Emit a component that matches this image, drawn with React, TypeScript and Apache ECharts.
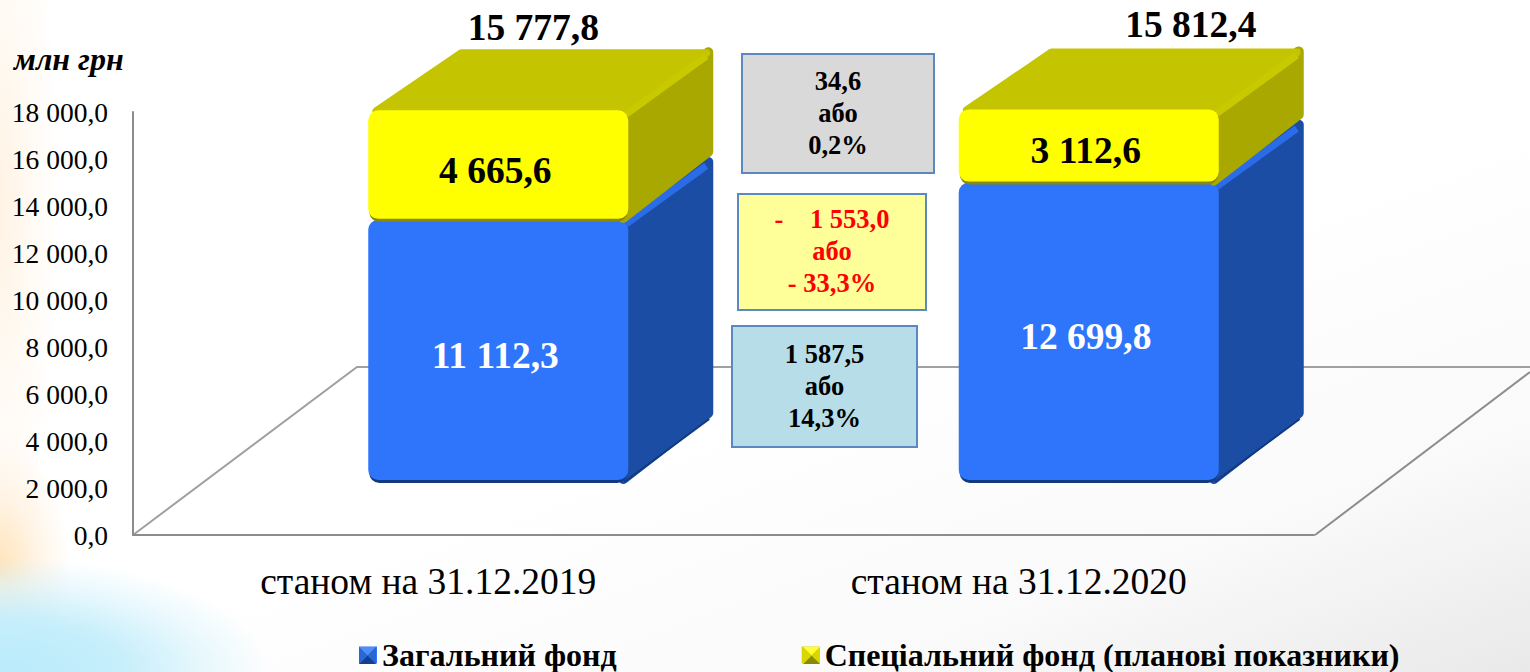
import React, { useEffect, useRef } from "react";
import * as echarts from "echarts";

const categories = ["станом на 31.12.2019", "станом на 31.12.2020"];
const generalFund = [11112.3, 12699.8];
const specialFund = [4665.6, 3112.6];
const totals = ["15 777,8", "15 812,4"];
const generalLabels = ["11 112,3", "12 699,8"];
const specialLabels = ["4 665,6", "3 112,6"];
const yTicks = { min: 0, max: 18000, interval: 2000 };
const seriesNames = ["Загальний фонд", "Спеціальний фонд (планові показники)"];
const deltaBoxes = [
  { text: "34,6\nабо\n0,2%", fill: "#d9d9d9", color: "#000000" },
  { text: "-    1 553,0\nабо\n- 33,3%", fill: "#ffff99", color: "#ff0000" },
  { text: "1 587,5\nабо\n14,3%", fill: "#b7dde8", color: "#000000" },
];

const SERIF = "'Liberation Serif', 'Times New Roman', serif";
const FACE_DX = 70;
const FACE_W = 260;
const FLOOR_Y = 54;
const DEPTH_X = 85;
const DEPTH_Y = 63;
const BOX_GEOM = [
  { x: 742, y: 54, w: 192, h: 119 },
  { x: 738, y: 194, w: 188, h: 116 },
  { x: 732, y: 326, w: 185, h: 121 },
];
const TOTAL_OFFSET = [[35, -83], [102, -85]];

const fmtTick = (v: number) => {
  const s = v.toFixed(1).replace(".", ",");
  const [a, b] = s.split(",");
  return a.replace(/\B(?=(\d{3})+$)/g, " ") + "," + b;
};

function makeRender(palette: any, labels: string[], isTop: boolean) {
  return (params: any, api: any) => {
    const i = params.dataIndex;
    const c = api.value(0);
    const p0 = api.coord([c, api.value(1)]);
    const p1 = api.coord([c, api.value(2)]);
    const x = p0[0] + FACE_DX - FACE_W / 2;
    const yb = p0[1] - FLOOR_Y;
    const yt = p1[1] - FLOOR_Y;
    const xr = x + FACE_W;
    const children: any[] = [];
    children.push({
      type: "polygon",
      shape: { points: [[xr - 5, yt + 2], [xr + DEPTH_X - 5, yt - DEPTH_Y + 5], [xr + DEPTH_X - 5, yb - DEPTH_Y - 5], [xr - 5, yb - 2]] },
      style: { fill: palette.side, stroke: palette.side, lineWidth: 10, lineJoin: "round" },
    });
    if (!isTop) {
      children.push({
        type: "polyline",
        shape: { points: [[xr - 4, yb + 1], [xr + DEPTH_X - 4, yb - DEPTH_Y + 1]] },
        style: { stroke: palette.edge, lineWidth: 2, fill: "none" },
      });
    }
    if (isTop) {
      children.push({
        type: "polygon",
        shape: { points: [[x + 8, yt + 1], [x + 93, yt - DEPTH_Y + 6], [xr + DEPTH_X - 7, yt - DEPTH_Y + 6], [xr - 2, yt + 1]] },
        style: { fill: palette.top, stroke: palette.top, lineWidth: 8, lineJoin: "round" },
      });
    }
    children.push({
      type: "line",
      shape: { x1: xr - 2, y1: yt + 4, x2: xr + DEPTH_X - 7, y2: yt - DEPTH_Y + 9 },
      style: { stroke: palette.ridge, lineWidth: 7, lineCap: "butt" },
    });
    children.push({
      type: "rect",
      shape: { x: x + 1, y: yt + 2, width: FACE_W - 2, height: yb - yt, r: 10 },
      style: { fill: palette.edge },
    });
    children.push({
      type: "rect",
      shape: { x, y: yt, width: FACE_W, height: yb - yt - 1, r: 10 },
      style: { fill: palette.front },
    });
    children.push({
      type: "text",
      style: {
        text: labels[i],
        x: x + FACE_W / 2 - 3,
        y: (yt + yb) / 2 + 5,
        align: "center",
        verticalAlign: "middle",
        fill: palette.text,
        font: `bold 37.5px ${SERIF}`,
      },
    });
    if (isTop) {
      children.push({
        type: "text",
        style: {
          text: totals[i],
          x: x + FACE_W / 2 + TOTAL_OFFSET[i][0],
          y: yt + TOTAL_OFFSET[i][1],
          align: "center",
          verticalAlign: "middle",
          fill: "#000",
          font: `bold 37.5px ${SERIF}`,
        },
      });
    }
    return { type: "group", children };
  };
}

function pyramid(x: number, y: number, s: number, cols: string[]) {
  const m = s / 2;
  const tri = (pts: number[][], fill: string) => ({ type: "polygon", shape: { points: pts }, style: { fill }, z: 20 });
  const cx = x + m;
  const cy = y + m;
  return [
    tri([[x, y], [x + s, y], [cx, cy]], cols[0]),
    tri([[x + s, y], [x + s, y + s], [cx, cy]], cols[1]),
    tri([[x, y + s], [x + s, y + s], [cx, cy]], cols[2]),
    tri([[x, y], [x, y + s], [cx, cy]], cols[3]),
  ];
}

export default function App() {
  const ref = useRef<HTMLDivElement>(null);
  useEffect(() => {
    const chart = echarts.init(ref.current!, undefined, { renderer: "svg" });
    const blue = { front: "#2e75fb", side: "#1c4da4", top: "#1c4da4", ridge: "#2a6be8", edge: "#123a80", text: "#ffffff" };
    const yellow = { front: "#ffff00", side: "#a8a800", top: "#c4c400", ridge: "#c9c900", edge: "#8a8a00", text: "#000000" };
    const generalData = categories.map((_, i) => [i, 0, generalFund[i]]);
    const specialData = categories.map((_, i) => [i, generalFund[i], generalFund[i] + specialFund[i]]);
    chart.setOption({
      animation: false,
      backgroundColor: "transparent",
      grid: { left: 133, top: 112, width: 1181, height: 423, containLabel: false },
      xAxis: {
        type: "category",
        data: categories,
        axisLine: { lineStyle: { color: "#8c8c8c", width: 2 } },
        axisTick: { show: false },
        axisLabel: { color: "#000", fontFamily: SERIF, fontSize: 37.5, margin: 27 },
      },
      yAxis: {
        type: "value",
        min: yTicks.min,
        max: yTicks.max,
        interval: yTicks.interval,
        axisLine: { show: true, lineStyle: { color: "#8c8c8c", width: 2 } },
        axisTick: { show: false },
        splitLine: { show: false },
        axisLabel: { color: "#000", fontFamily: SERIF, fontSize: 27.5, margin: 25, formatter: fmtTick },
      },
      legend: {
        left: 354,
        top: 634,
        itemWidth: 18,
        itemHeight: 17,
        itemGap: 185,
        icon: "rect",
        selectedMode: false,
        data: seriesNames,
        textStyle: { color: "#000", fontFamily: SERIF, fontSize: 32, fontWeight: "bold", padding: [0, 0, 0, 0], letterSpacing: 1 },
      },
      graphic: [
        {
          type: "polyline",
          z: 0,
          shape: { points: [[133, 535], [357, 367], [1530, 367]] },
          style: { stroke: "#a0a0a0", lineWidth: 2, fill: "none" },
        },
        {
          type: "line",
          z: 0,
          shape: { x1: 1315, y1: 535, x2: 1530, y2: 372 },
          style: { stroke: "#8c8c8c", lineWidth: 2 },
        },
        {
          type: "text",
          z: 10,
          style: { text: "млн грн", x: 14, y: 59, verticalAlign: "middle", fill: "#000", font: `italic bold 32px ${SERIF}` },
        },
        ...deltaBoxes.flatMap((b, i) => {
          const g = BOX_GEOM[i];
          return [
            {
              type: "rect",
              z: 10,
              shape: { x: g.x, y: g.y, width: g.w, height: g.h },
              style: { fill: b.fill, stroke: "#5b88c1", lineWidth: 2 },
            },
            {
              type: "text",
              z: 11,
              style: {
                text: b.text,
                x: g.x + g.w / 2,
                y: g.y + g.h / 2 - 1,
                align: "center",
                verticalAlign: "middle",
                fill: b.color,
                font: `bold 26.5px ${SERIF}`,
                lineHeight: 32,
              },
            },
          ];
        }),
        ...pyramid(359, 647, 17, ["#4f8ef5", "#2a66d0", "#123f90", "#2a66d0"]),
        ...pyramid(803, 647, 17, ["#ffff33", "#d8d800", "#8a8a00", "#d8d800"]),
      ],
      series: [
        {
          type: "custom",
          name: seriesNames[0],
          data: generalData,
          encode: { x: 0, y: [1, 2] },
          clip: false,
          z: 3,
          itemStyle: { color: "#2e75fb" },
          renderItem: makeRender(blue, generalLabels, false),
        },
        {
          type: "custom",
          name: seriesNames[1],
          data: specialData,
          encode: { x: 0, y: [1, 2] },
          clip: false,
          z: 4,
          itemStyle: { color: "#d8d800" },
          renderItem: makeRender(yellow, specialLabels, true),
        },
      ],
    });
    return () => chart.dispose();
  }, []);
  return (
    <div
      style={{
        position: "absolute",
        left: 0,
        top: 0,
        width: 1530,
        height: 672,
        overflow: "hidden",
        background:
          "radial-gradient(ellipse 270px 115px at 0px 672px, #b9ebfb 0%, #c6eefb 45%, rgba(215,243,252,0.6) 75%, rgba(255,255,255,0) 100%)," +
          "radial-gradient(ellipse 70px 130px at 0px 570px, #ffe3b8 0%, rgba(255,240,220,0.7) 55%, rgba(255,255,255,0) 100%)," +
          "radial-gradient(ellipse 60px 380px at 0px 200px, #fff3e4 0%, rgba(255,248,238,0.6) 55%, rgba(255,255,255,0) 100%)," +
          "linear-gradient(160deg, #ffffff 55%, #fafafa 80%, #e9e9e9 100%)",
      }}
    >
      <div ref={ref} style={{ width: 1530, height: 672 }} />
    </div>
  );
}
